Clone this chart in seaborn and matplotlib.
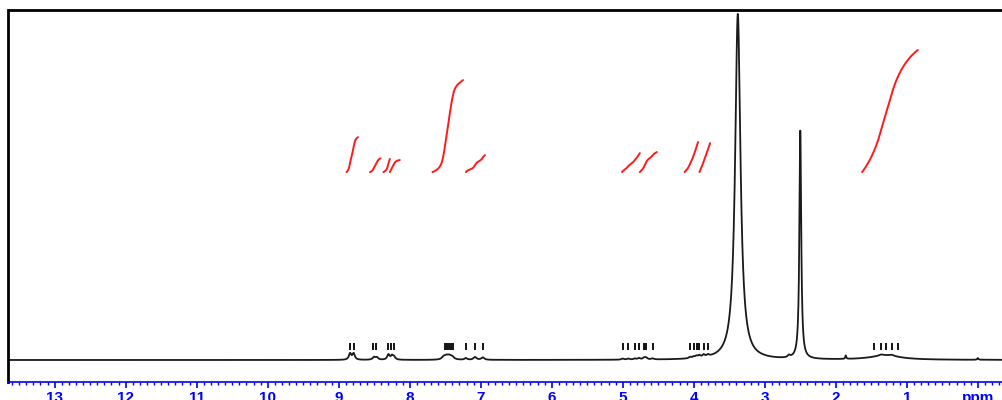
import numpy as np
import pandas as pd
import matplotlib
matplotlib.use("Agg")
import matplotlib.pyplot as plt
from matplotlib.ticker import MultipleLocator, FixedLocator, FixedFormatter
import seaborn as sns

# 1H NMR peak list: chemical shift (ppm), intensity (water = 100), half width (ppm)
peak_ppm = [8.84, 8.79, 8.50, 8.46, 8.30, 8.25, 8.22,
            7.52, 7.48, 7.44, 7.40, 7.21, 7.08, 6.97,
            5.00, 4.92, 4.83, 4.77, 4.70, 4.67, 4.58,
            4.05, 4.00, 3.96, 3.92, 3.86, 3.80,
            3.38, 2.66, 2.50, 1.86, 1.36, 1.30, 1.21, 0.00]
peak_int = [1.8, 1.8, 0.8, 0.6, 1.5, 1.1, 0.8,
            0.8, 0.9, 0.9, 0.7, 0.5, 0.8, 0.7,
            0.3, 0.3, 0.3, 0.4, 0.5, 0.5, 0.3,
            0.4, 0.4, 0.5, 0.6, 0.7, 0.5,
            100.0, 0.6, 66.0, 1.0, 0.3, 1.3, 0.3, 0.5]
peak_hw = [0.02, 0.02, 0.025, 0.02, 0.02, 0.02, 0.02,
           0.03, 0.03, 0.03, 0.03, 0.02, 0.025, 0.025,
           0.02, 0.02, 0.02, 0.02, 0.02, 0.02, 0.02,
           0.02, 0.02, 0.02, 0.02, 0.02, 0.02,
           0.045, 0.02, 0.015, 0.008, 0.03, 0.25, 0.03, 0.01]

# Integral regions (ppm from, ppm to) and integral step heights
integ_from = [8.89, 8.56, 8.37, 8.28, 7.68, 7.21, 5.01, 4.76, 4.13, 3.92, 1.63]
integ_to = [8.73, 8.41, 8.28, 8.14, 7.25, 6.94, 4.76, 4.52, 3.94, 3.77, 0.845]
integ_height = [10.1, 4.0, 3.8, 3.5, 26.6, 4.9, 5.5, 5.8, 8.7, 8.4, 35.3]
integ_base = 54.3

# Peak-picking markers
pick_ppm = [8.84, 8.79, 8.52, 8.47, 8.30, 8.27, 8.22,
            7.51, 7.48, 7.45, 7.42, 7.39, 7.21, 7.08, 6.97,
            5.00, 4.92, 4.83, 4.77, 4.70, 4.67, 4.58,
            4.05, 4.00, 3.96, 3.92, 3.86, 3.80,
            1.46, 1.36, 1.30, 1.21, 1.13]

major_ticks = list(range(0, 14))
major_labels = ["ppm"] + [str(v) for v in range(1, 14)]


def spectrum(x):
    y = np.zeros_like(x)
    for c, h, w in zip(peak_ppm, peak_int, peak_hw):
        y += h * w**2 / ((x - c) ** 2 + w**2)
    return y


ppm = np.linspace(-0.34, 13.65, 9000)
spec_df = pd.DataFrame({"ppm": ppm, "intensity": spectrum(ppm)})

sns.set_style("white")
plt.rcParams["font.family"] = ["Liberation Sans", "DejaVu Sans"]

fig = plt.figure(figsize=(10.03, 4.0), dpi=100)
ax = fig.add_axes([8.5 / 1003, 18 / 400, (1002 - 8.5) / 1003, (382 - 10) / 400])

sns.lineplot(data=spec_df, x="ppm", y="intensity", ax=ax, color="#1a1a1a",
             linewidth=1.3, estimator=None, sort=False)

# Integral traces
for a, b, h in zip(integ_from, integ_to, integ_height):
    xs = np.linspace(b, a, 200)
    ys = spectrum(xs)
    cum = np.cumsum(ys[::-1])[::-1]
    cum = (cum - cum.min()) / (cum.max() - cum.min())
    idf = pd.DataFrame({"ppm": xs, "integral": integ_base + h * cum})
    sns.lineplot(data=idf, x="ppm", y="integral", ax=ax, color="#ff1a1a",
                 linewidth=1.4, estimator=None, sort=False)

# Peak pick markers
ax.vlines(pick_ppm, 2.9, 4.9, color="black", linewidth=1.3)

ax.set_xlim(13.65, -0.34)
ax.set_ylim(-22 * 100 / 346, 350 * 100 / 346)
ax.set_xlabel("")
ax.set_ylabel("")
ax.set_yticks([])

ax.xaxis.set_major_locator(FixedLocator(major_ticks))
ax.xaxis.set_major_formatter(FixedFormatter(major_labels))
ax.xaxis.set_minor_locator(MultipleLocator(0.1))
ax.tick_params(axis="x", which="major", direction="out", length=4.5, width=1.2,
               color="#0000ff", labelcolor="#0000ff", labelsize=11, pad=1.8,
               bottom=True)
ax.tick_params(axis="x", which="minor", direction="out", length=2.0, width=1.0,
               color="#0000ff", bottom=True)
for lab in ax.get_xticklabels():
    lab.set_fontweight("bold")

for side in ("top", "left"):
    ax.spines[side].set_color("black")
    ax.spines[side].set_linewidth(2.0)
ax.spines["right"].set_visible(False)
ax.spines["bottom"].set_color("#0000ff")
ax.spines["bottom"].set_linewidth(1.2)

fig.savefig("out.png", dpi=100)
